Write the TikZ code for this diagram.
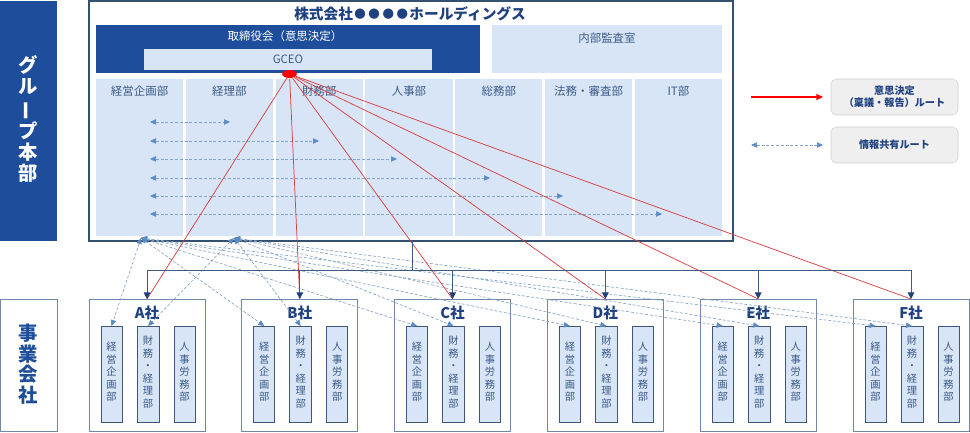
\documentclass[tikz,border=0pt]{standalone}
\usepackage{fontspec}
\setmainfont{Noto Sans CJK JP}
\usepackage{graphicx}
\usetikzlibrary{fit,arrows.meta,shapes.geometric}
\definecolor{navy}{HTML}{1E4E9B}
\definecolor{lblue}{HTML}{D7E5F7}
\definecolor{txtb}{HTML}{3D5A86}
\definecolor{frame}{HTML}{34506F}
\definecolor{cframe}{HTML}{7088A8}
\definecolor{subframe}{HTML}{3E5678}
\definecolor{dashc}{HTML}{86A4CB}
\definecolor{arrc}{HTML}{5B8AC4}
\definecolor{redl}{HTML}{D94040}
\definecolor{titlec}{HTML}{1F4180}
\definecolor{legfill}{HTML}{EFEFEF}
\definecolor{legdraw}{HTML}{CFCFCF}
\definecolor{treec}{HTML}{3F5C80}
\definecolor{treetip}{HTML}{1F3F7A}
\newcommand\tdot{\hspace{1pt}\raisebox{1pt}{\fontsize{8.6}{8.6}\selectfont ●}\hspace{1pt}}
\tikzset{
  area/.style={inner sep=0pt, outer sep=0pt},
  lbox/.style={area, fill=lblue},
  lbl/.style={inner sep=0pt, text=txtb, font=\fontsize{8.6}{10}\selectfont},
  vt/.style={align=center, font=\fontsize{7.7}{9.4}\selectfont, text=txtb, inner sep=0pt},
  info/.style={dashc, line width=0.5pt, dash pattern=on 2.2pt off 1.4pt,
    {Triangle[length=4.5pt,width=4pt,color=arrc]}-{Triangle[length=4.5pt,width=4pt,color=arrc]}},
  decision/.style={redl, line width=0.55pt},
  tree/.style={treec, line width=0.7pt},
  treearrow/.style={tree, -{Triangle[length=5pt,width=5pt,color=treetip]}},
  legbox/.style={area, draw=legdraw, fill=legfill, rounded corners=4pt},
  legtext/.style={align=center, inner sep=0pt, text=titlec, font=\fontsize{7.6}{9}\selectfont\bfseries},
}
\begin{document}
\begin{tikzpicture}[x=0.75pt,y=-0.75pt]
\useasboundingbox (0,0) rectangle (970,432);
% side labels
\node[area, fill=navy, fit={(0,1) (57,241)}] (grp) {};
\node[align=center, text=white, font=\fontsize{14.5}{16}\selectfont\bfseries, inner sep=0pt] (grpt) at (28.5,119)
  {グ\\ル\\\rotatebox[origin=c]{90}{ー}\\プ\\本\\部};
\node[area, draw=cframe, line width=0.6pt, fill=white, fit={(0,299) (57,431)}] (biz) {};
\node[align=center, text=navy, font=\fontsize{14.5}{15.5}\selectfont\bfseries, inner sep=0pt] (bizt) at (28.5,364)
  {事\\業\\会\\社};
% holding company
\node[area, draw=frame, line width=0.8pt, fill=white, fit={(89,1) (733,241)}] (hq) {};
\node[inner sep=0pt, text=titlec, font=\fontsize{11}{12}\selectfont\bfseries] (ttl) at (410,14) {株式会社\tdot\tdot\tdot\tdot ホールディングス};
\node[area, fill=navy, fit={(96,25) (480,73)}] (board) {};
\node[inner sep=0pt, text=white, font=\fontsize{8.6}{10}\selectfont] (boardt) at (285,36) {取締役会（意思決定）};
\node[lbox, fit={(144,49) (432,70)}] (gceo) {};
\node[lbl] (gceot) at (gceo) {GCEO};
\node[lbox, fit={(492,25) (722,73)}] (audit) {};
\node[lbl] (auditt) at (607,38) {内部監査室};
\foreach \k/\t in {0/経営企画部,1/経理部,2/財務部,3/人事部,4/総務部,5/法務・審査部,6/IT部}{
  \pgfmathsetmacro\cl{96+89.8*\k}
  \node[lbox, fit={(\cl,79) ({\cl+87.2},236)}] (dep\k) {};
  \node[lbl] (dept\k) at ({\cl+43.6},91) {\t};
}
% information sharing inside HQ
\foreach \r/\yy/\xe in {1/122/230,2/141/319,3/159/397,4/178/490,5/196/563,6/214/662}{
  \coordinate (is\r) at (150,\yy);
  \coordinate (ie\r) at (\xe,\yy);
  \draw[info] (is\r) -- (ie\r);
}
% operating companies
\foreach \i/\n in {0/A,1/B,2/C,3/D,4/E,5/F}{
  \pgfmathsetmacro\L{89+152.8*\i}
  \node[area, draw=cframe, line width=0.6pt, fill=white, fit={(\L,299) ({\L+116},431)}] (comp\i) {};
  \node[inner sep=0pt, text=titlec, font=\fontsize{11}{12}\selectfont\bfseries] (compt\i) at ({\L+58},313) {{\n}社};
  \node[area, fill=lblue, draw=subframe, line width=0.6pt, fit={({\L+12},326) ({\L+33},422)}] (sk\i) {};
  \node[vt] (skt\i) at ({\L+22.5},372) {経\\営\\企\\画\\部};
  \node[area, fill=lblue, draw=subframe, line width=0.6pt, fit={({\L+48},326) ({\L+70},422)}] (sf\i) {};
  \node[vt] (sft\i) at ({\L+59},372) {財\\務\\・\\経\\理\\部};
  \node[area, fill=lblue, draw=subframe, line width=0.6pt, fit={({\L+85},326) ({\L+106},422)}] (sh\i) {};
  \node[vt] (sht\i) at ({\L+95.5},372) {人\\事\\労\\務\\部};
}
% information sharing to companies
\coordinate (hk) at (141,238);
\coordinate (hf) at (234,238);
\foreach \i in {0,...,5}{
  \draw[info] (hk) -- (sk\i.north);
  \draw[info] (hf) -- (sf\i.north);
}
% decision route
\node[ellipse, fill=red, inner sep=0pt, minimum width=11pt, minimum height=6pt] (gd) at (289.5,74) {};
\foreach \i in {0,...,5}{
  \draw[decision] (gd) -- (comp\i.north);
}
% tree
\coordinate (hqb) at (412,241);
\coordinate (tj) at (412,270);
\draw[tree] (hqb) -- (tj);
\draw[tree] (comp0.north |- tj) -- (comp5.north |- tj);
\foreach \i in {0,...,5}{
  \draw[treearrow] (comp\i.north |- tj) -- (comp\i.north);
}
% legend
\node[legbox, fit={(831,79) (958,115)}] (leg1) {};
\node[legtext] (leg1t) at (leg1) {意思決定\\（稟議・報告）ルート};
\node[legbox, fit={(831,127) (958,163)}] (leg2) {};
\node[legtext] (leg2t) at (leg2) {情報共有ルート};
\coordinate (l1a) at (751,97);
\coordinate (l1b) at (823,97);
\draw[red, line width=0.8pt, -{Triangle[length=5pt,width=4.5pt]}] (l1a) -- (l1b);
\coordinate (l2a) at (751,145);
\coordinate (l2b) at (823,145);
\draw[info] (l2a) -- (l2b);
\end{tikzpicture}
\end{document}
